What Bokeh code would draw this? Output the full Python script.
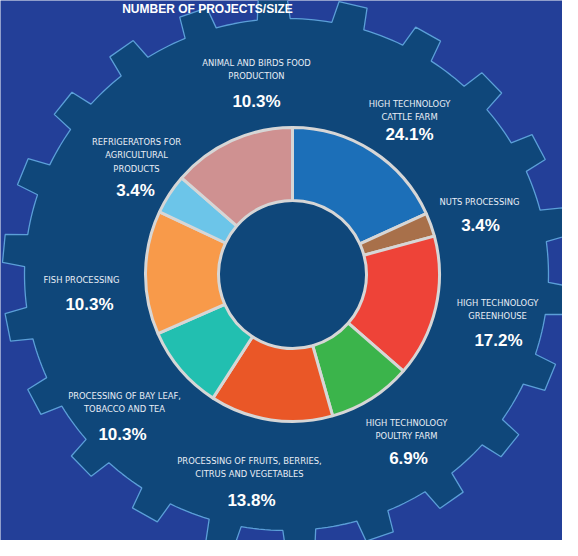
import numpy as np
from bokeh.plotting import figure
from bokeh.models import Range1d, ColumnDataSource
from bokeh.core.properties import value
from bokeh.embed import file_html
from bokeh.resources import INLINE

# ---------------- data ----------------
title = "NUMBER OF PROJECTS/SIZE"
category_lines = [
    ["HIGH TECHNOLOGY", "CATTLE FARM"],
    ["NUTS PROCESSING"],
    ["HIGH TECHNOLOGY", "GREENHOUSE"],
    ["HIGH TECHNOLOGY", "POULTRY FARM"],
    ["PROCESSING OF FRUITS, BERRIES,", "CITRUS AND VEGETABLES"],
    ["PROCESSING OF BAY LEAF,", "TOBACCO AND TEA"],
    ["FISH PROCESSING"],
    ["REFRIGERATORS FOR", "AGRICULTURAL", "PRODUCTS"],
    ["ANIMAL AND BIRDS FOOD", "PRODUCTION"],
]
project_share_pct = [24.1, 3.4, 17.2, 6.9, 13.8, 10.3, 10.3, 3.4, 10.3]
ring_size_share = [18.2, 2.6, 15.6, 9.2, 13.5, 9.3, 13.6, 4.4, 13.6]

# ---------------- styles / layout ----------------
slice_colors = ["#1c6fb8", "#a8704a", "#ee4338", "#3bb44b", "#ea5727",
                "#22bfb0", "#f89a4a", "#6cc5e9", "#cf9191"]
BG = "#233f98"
GEAR = "#0f477a"
GEAR_LINE = "#5b9fd8"
SEP = "#d6d6d6"
H = 556

# label anchor positions in reference pixels: (x_lines, y_first_line, x_value, y_value)
label_pos = [
    (417, 110.7, 417, 142),
    (487, 208.5, 488, 233),
    (505, 309.5, 506, 347.5),
    (414, 430, 416, 466),
    (257, 467.5, 259, 508),
    (132, 403, 130, 442),
    (89, 287, 97, 311.5),
    (144, 149, 143, 197.5),
    (264, 70, 264, 109),
]
LINE_STEP = 13.4


def Y(y):
    return H - y


p = figure(width=562, height=540, x_range=Range1d(8, 570), y_range=Range1d(8, 548),
           output_backend="svg", toolbar_location=None, min_border=0)
p.background_fill_color = BG
p.border_fill_color = BG
p.outline_line_color = None
p.axis.visible = False
p.grid.visible = False

# ---------------- gear ----------------
gcx, gcy = 294, 282
rx, ry = 262, 256
tip = 1.085
n_teeth = 22
step = 360.0 / n_teeth
first = -2.8
hb, ht = 3.6, 2.9
angs, rads = [], []
for k in range(n_teeth):
    a = first + k * step
    angs += [a - hb, a - ht, a + ht, a + hb]
    rads += [1, tip, tip, 1]
    nxt = a + step - hb
    for t in np.linspace(a + hb, nxt, 8)[1:-1]:
        angs.append(t)
        rads.append(1)
angs = np.radians(np.array(angs))
rads = np.array(rads)
gx = gcx + rx * rads * np.sin(angs)
gy = gcy - ry * rads * np.cos(angs)
p.patch(list(gx), [Y(v) for v in gy], fill_color=GEAR, line_color=GEAR_LINE, line_width=1.3)

# ---------------- donut ----------------
total = sum(ring_size_share)
cum = np.concatenate([[0], np.cumsum(ring_size_share)]) / total * 360.0
src = ColumnDataSource(dict(
    start=list(np.radians(90 - cum[:-1])),
    end=list(np.radians(90 - cum[1:])),
    color=slice_colors,
))
p.annular_wedge(x=300, y=Y(282), inner_radius=74, outer_radius=147,
                start_angle="start", end_angle="end", direction="clock",
                fill_color="color", line_color=SEP, line_width=3, source=src)

# ---------------- labels ----------------
lx, ly, lt = [], [], []
vx, vy, vt = [], [], []
for lines, pct, (xl, yl, xv, yv) in zip(category_lines, project_share_pct, label_pos):
    for i, line in enumerate(lines):
        lx.append(xl)
        ly.append(Y(yl + i * LINE_STEP))
        lt.append(line)
    vx.append(xv)
    vy.append(Y(yv))
    vt.append(f"{pct:.1f}%")

p.text(x=lx, y=ly, text=lt, text_align="center", text_baseline="middle",
       text_font=value("DejaVu Sans Condensed"), text_font_size="9.3px",
       text_color="#e9eef6")
p.text(x=vx, y=vy, text=vt, text_align="center", text_baseline="middle",
       text_font=value("Liberation Sans"), text_font_size="17px",
       text_font_style="bold", text_color="#ffffff")

# title (the reference shows it at the very top edge)
p.text(x=[215], y=[Y(9)], text=[title], text_align="center", text_baseline="top",
       text_font=value("Liberation Sans"), text_font_size="12px",
       text_font_style="bold", text_color="#ffffff")

open("out.html", "w").write(file_html(p, INLINE))
